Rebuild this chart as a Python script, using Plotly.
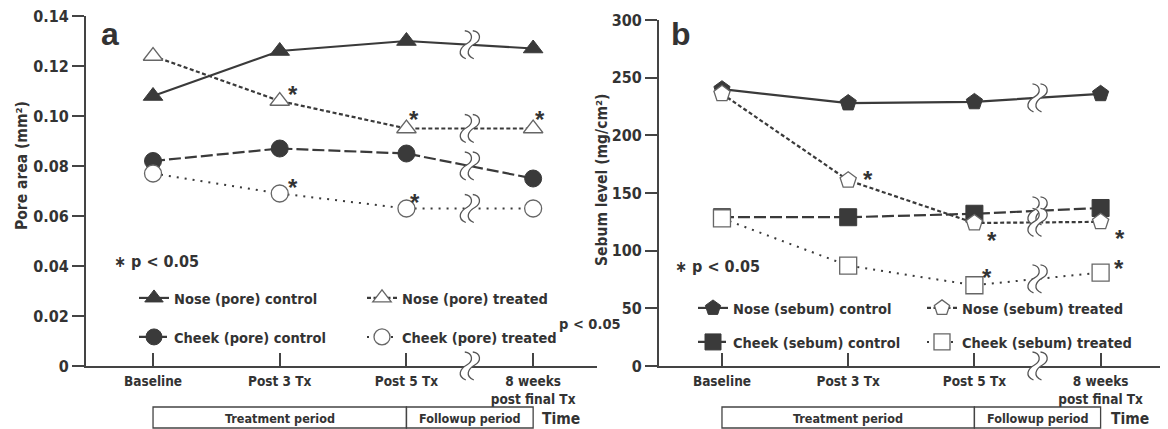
import plotly.graph_objects as go

# ---------------- data ----------------
categories = ["Baseline", "Post 3 Tx", "Post 5 Tx", "8 weeks<br>post final Tx"]

pore_nose_control = [0.108, 0.126, 0.130, 0.127]
pore_nose_treated = [0.124, 0.106, 0.095, 0.095]
pore_cheek_control = [0.082, 0.087, 0.085, 0.075]
pore_cheek_treated = [0.077, 0.069, 0.063, 0.063]

sebum_nose_control = [240, 228, 229, 236]
sebum_nose_treated = [236, 161, 124, 125]
sebum_cheek_control = [129, 129, 132, 137]
sebum_cheek_treated = [128, 87, 70, 81]

pore_ticks = [0, 0.02, 0.04, 0.06, 0.08, 0.10, 0.12, 0.14]
pore_tick_labels = ["0", "0.02", "0.04", "0.06", "0.08", "0.10", "0.12", "0.14"]
sebum_ticks = [0, 50, 100, 150, 200, 250, 300]
sebum_tick_labels = ["0", "50", "100", "150", "200", "250", "300"]

periods = ["Treatment period", "Followup period"]
period_start = [0, 2]
period_end = [2, 3]

# significant points: (series key, category index)
pore_significant = [("nose_treated", 1), ("nose_treated", 2), ("nose_treated", 3),
                    ("cheek_treated", 1), ("cheek_treated", 2)]
sebum_significant = [("nose_treated", 1), ("nose_treated", 2), ("nose_treated", 3),
                     ("cheek_treated", 2), ("cheek_treated", 3)]

# ---------------- style ----------------
OFF = 8                      # page body margin: figure starts 8px in
W, H = 1168 - OFF, 429 - OFF
FONT = "Liberation Sans Narrow, DejaVu Sans Condensed, Arial Narrow, sans-serif"
INK = "#333333"
LINE = "#3a3a3a"
OPEN = "#666666"

def px_x(p):
    """screen x pixel -> paper fraction"""
    return (p - OFF) / W

def px_y(p):
    """screen y pixel -> paper fraction"""
    return 1 - (p - OFF) / H

xs = list(range(len(categories)))

pore = {
    "nose_control": ("Nose (pore) control", pore_nose_control),
    "cheek_control": ("Cheek (pore) control", pore_cheek_control),
    "nose_treated": ("Nose (pore) treated", pore_nose_treated),
    "cheek_treated": ("Cheek (pore) treated", pore_cheek_treated),
}
sebum = {
    "nose_control": ("Nose (sebum) control", sebum_nose_control),
    "cheek_control": ("Cheek (sebum) control", sebum_cheek_control),
    "nose_treated": ("Nose (sebum) treated", sebum_nose_treated),
    "cheek_treated": ("Cheek (sebum) treated", sebum_cheek_treated),
}

line_style = {
    "nose_control": dict(dash="solid", width=2.2),
    "nose_treated": dict(dash="4px,2.5px", width=2.2),
    "cheek_control": dict(dash="12px,4px", width=2.2),
    "cheek_treated": dict(dash="2px,6px", width=2.0),
}
pore_symbol = {"nose_control": "triangle-up", "nose_treated": "triangle-up",
               "cheek_control": "circle", "cheek_treated": "circle"}
sebum_symbol = {"nose_control": "pentagon", "nose_treated": "pentagon",
                "cheek_control": "square", "cheek_treated": "square"}
filled = {"nose_control": True, "cheek_control": True,
          "nose_treated": False, "cheek_treated": False}

# legend text start (screen px) and row centre (screen px)
pore_legend_pos = {"nose_control": (174, 298), "nose_treated": (402, 298),
                   "cheek_control": (174, 337), "cheek_treated": (402, 337)}
sebum_legend_pos = {"nose_control": (733, 308), "nose_treated": (962, 308),
                    "cheek_control": (733, 342), "cheek_treated": (962, 342)}

# star offsets in px (dx right, dy up)
pore_star_off = {("nose_treated", 1): (13, 12), ("nose_treated", 2): (8, 15),
                 ("nose_treated", 3): (7, 15), ("cheek_treated", 1): (13, 12),
                 ("cheek_treated", 2): (9, 12)}
sebum_star_off = {("nose_treated", 1): (20, 7), ("nose_treated", 2): (18, -12),
                  ("nose_treated", 3): (19, -11), ("cheek_treated", 2): (13, 14),
                  ("cheek_treated", 3): (18, 10)}

fig = go.Figure()
legend_layouts = {}
legend_counter = [0]

def add_panel(data, symbols, xa, ya, legend_pos, marker_size):
    for key, (name, vals) in data.items():
        legend_counter[0] += 1
        lid = "legend" if legend_counter[0] == 1 else f"legend{legend_counter[0]}"
        if filled[key]:
            marker = dict(symbol=symbols[key], size=marker_size, color=LINE,
                          line=dict(color=LINE, width=1))
        else:
            marker = dict(symbol=symbols[key], size=marker_size, color="white",
                          line=dict(color=OPEN, width=1.3))
        fig.add_trace(go.Scatter(
            x=xs, y=vals, name=name, mode="lines+markers",
            line=dict(color=LINE, **line_style[key]), marker=marker,
            xaxis=xa, yaxis=ya, legend=lid, cliponaxis=False, showlegend=True,
        ))
        tx, ty = legend_pos[key]
        legend_layouts[lid] = dict(
            x=px_x(tx - 40), y=px_y(ty), xanchor="left", yanchor="middle",
            bgcolor="rgba(0,0,0,0)", borderwidth=0,
            font=dict(family=FONT, size=14.5, color=INK, weight="bold"),
            itemsizing="trace",
        )

add_panel(pore, pore_symbol, "x", "y", pore_legend_pos, 17)
add_panel(sebum, sebum_symbol, "x2", "y2", sebum_legend_pos, 17)

annotations = []
shapes = []

def star_annotations(data, sig, offs, xref, yref):
    for key, i in sig:
        dx, dy = offs[(key, i)]
        annotations.append(dict(
            x=xs[i], y=data[key][1][i], xref=xref, yref=yref, text="*",
            showarrow=False, xanchor="center", yanchor="middle",
            xshift=dx, yshift=dy - 6,
            font=dict(family="Liberation Sans, Arial, sans-serif", size=24, color=INK, weight="bold"),
        ))

star_annotations(pore, pore_significant, pore_star_off, "x", "y")
star_annotations(sebum, sebum_significant, sebum_star_off, "x2", "y2")

# axis-break marks
def curve(c):
    return [(c - 1, 14), (c + 7, 13), (c + 8, 5), (c + 1, 1),
            (c - 6, -3), (c - 9, -10), (c, -14)]

def path_from(pts):
    (x0, y0) = pts[0]
    s = f"M{x0},{y0}"
    for k in range(1, len(pts), 3):
        a, b, c = pts[k], pts[k + 1], pts[k + 2]
        s += f" C{a[0]},{a[1]} {b[0]},{b[1]} {c[0]},{c[1]}"
    return s

def rev_path(pts):
    r = list(reversed(pts))
    s = ""
    for k in range(1, len(r), 3):
        a, b, c = r[k], r[k + 1], r[k + 2]
        s += f" C{a[0]},{a[1]} {b[0]},{b[1]} {c[0]},{c[1]}"
    return s

c1 = curve(-4)
c2 = curve(4)
mask_path = path_from(c1) + f" L{c2[-1][0]},{c2[-1][1]}" + rev_path(c2) + " Z"

def add_break(xref, yref, xv, yv):
    shapes.append(dict(type="path", xref=xref, yref=yref, xsizemode="pixel", ysizemode="pixel",
                       xanchor=xv, yanchor=yv, path=mask_path,
                       fillcolor="white", line=dict(width=0), layer="above"))
    for cc in (c1, c2):
        shapes.append(dict(type="path", xref=xref, yref=yref, xsizemode="pixel", ysizemode="pixel",
                           xanchor=xv, yanchor=yv, path=path_from(cc),
                           line=dict(color="#555555", width=1.3), layer="above"))

Y_DOMAIN_BOTTOM = px_y(366)
brk_x = (xs[2] + xs[3]) / 2
for data, xr, yr in ((pore, "x", "y"), (sebum, "x2", "y2")):
    for key, (name, vals) in data.items():
        add_break(xr, yr, brk_x, (vals[2] + vals[3]) / 2)
    add_break(xr, "paper", brk_x, Y_DOMAIN_BOTTOM)

# period boxes
for xr, time_px in (("x", 540), ("x2", 1109)):
    for lab, a, b in zip(periods, period_start, period_end):
        shapes.append(dict(type="rect", xref=xr, yref="paper", x0=xs[a], x1=xs[b],
                           y0=px_y(428), y1=px_y(407), line=dict(color="#444444", width=1.3)))
        annotations.append(dict(x=(xs[a] + xs[b]) / 2, y=px_y(418), xref=xr, yref="paper",
                                text=lab, showarrow=False, xanchor="center", yanchor="middle",
                                font=dict(family=FONT, size=12.5, color=INK, weight="bold")))
    annotations.append(dict(x=px_x(time_px), y=px_y(419), xref="paper", yref="paper",
                            text="Time", showarrow=False, xanchor="left", yanchor="middle",
                            font=dict(family=FONT, size=15.5, color=INK, weight="bold")))

# panel letters
for lab, xp in (("a", 99), ("b", 669)):
    annotations.append(dict(x=px_x(xp), y=px_y(34), xref="paper", yref="paper", text=lab,
                            showarrow=False, xanchor="left", yanchor="middle",
                            font=dict(family="Liberation Sans, Arial, sans-serif", size=32,
                                      color=INK, weight="bold")))

# axis titles
annotations.append(dict(x=px_x(22), y=px_y(166), xref="paper", yref="paper",
                        text="Pore area (mm²)", textangle=-90, showarrow=False,
                        xanchor="center", yanchor="middle",
                        font=dict(family=FONT, size=15.5, color=INK, weight="bold")))
annotations.append(dict(x=px_x(602), y=px_y(180), xref="paper", yref="paper",
                        text="Sebum level (mg/cm²)", textangle=-90, showarrow=False,
                        xanchor="center", yanchor="middle",
                        font=dict(family=FONT, size=15.5, color=INK, weight="bold")))

# p-value notes
for xp, yp in ((112, 261), (673, 266)):
    annotations.append(dict(x=px_x(xp), y=px_y(yp), xref="paper", yref="paper",
                            text="∗ p < 0.05", showarrow=False, xanchor="left", yanchor="middle",
                            font=dict(family=FONT, size=16, color=INK, weight="bold")))
annotations.append(dict(x=px_x(557), y=px_y(324), xref="paper", yref="paper",
                        text="p < 0.05", showarrow=False, xanchor="left", yanchor="middle",
                        font=dict(family=FONT, size=14.5, color=INK, weight="bold")))

axis_common = dict(showline=True, linecolor="#444444", linewidth=2, showgrid=False,
                   zeroline=False, tickcolor="#444444", tickwidth=1.5, automargin=False,
                   ticklabeloverflow="allow")
xfont = dict(family=FONT, size=13.5, color=INK, weight="bold")
yfont = dict(family=FONT, size=16, color=INK, weight="bold")

fig.update_layout(
    width=W, height=H, margin=dict(l=0, r=0, t=0, b=0, autoexpand=False),
    paper_bgcolor="white", plot_bgcolor="white", showlegend=True,
    annotations=annotations, shapes=shapes,
    xaxis=dict(domain=[px_x(86), px_x(597)], range=[-0.529, 3.504], anchor="y",
               ticks="inside", ticklen=13, tickvals=xs, ticktext=categories,
               tickfont=xfont, ticklabelstandoff=2, **axis_common),
    yaxis=dict(domain=[px_y(366), px_y(16)], range=[0, 0.14 + 1e-6], anchor="x",
               ticks="outside", ticklen=12, tickvals=pore_ticks, ticktext=pore_tick_labels,
               tickfont=yfont, **axis_common),
    xaxis2=dict(domain=[px_x(659), 1.0], range=[-0.499, 3.534], anchor="y2",
                ticks="inside", ticklen=13, tickvals=xs, ticktext=categories,
                tickfont=xfont, ticklabelstandoff=2, **axis_common),
    yaxis2=dict(domain=[px_y(366), px_y(20)], range=[0, 300 + 1e-3], anchor="x2",
                ticks="outside", ticklen=12, tickvals=sebum_ticks, ticktext=sebum_tick_labels,
                tickfont=yfont, **axis_common),
    **legend_layouts,
)

fig.write_html("out.html")
